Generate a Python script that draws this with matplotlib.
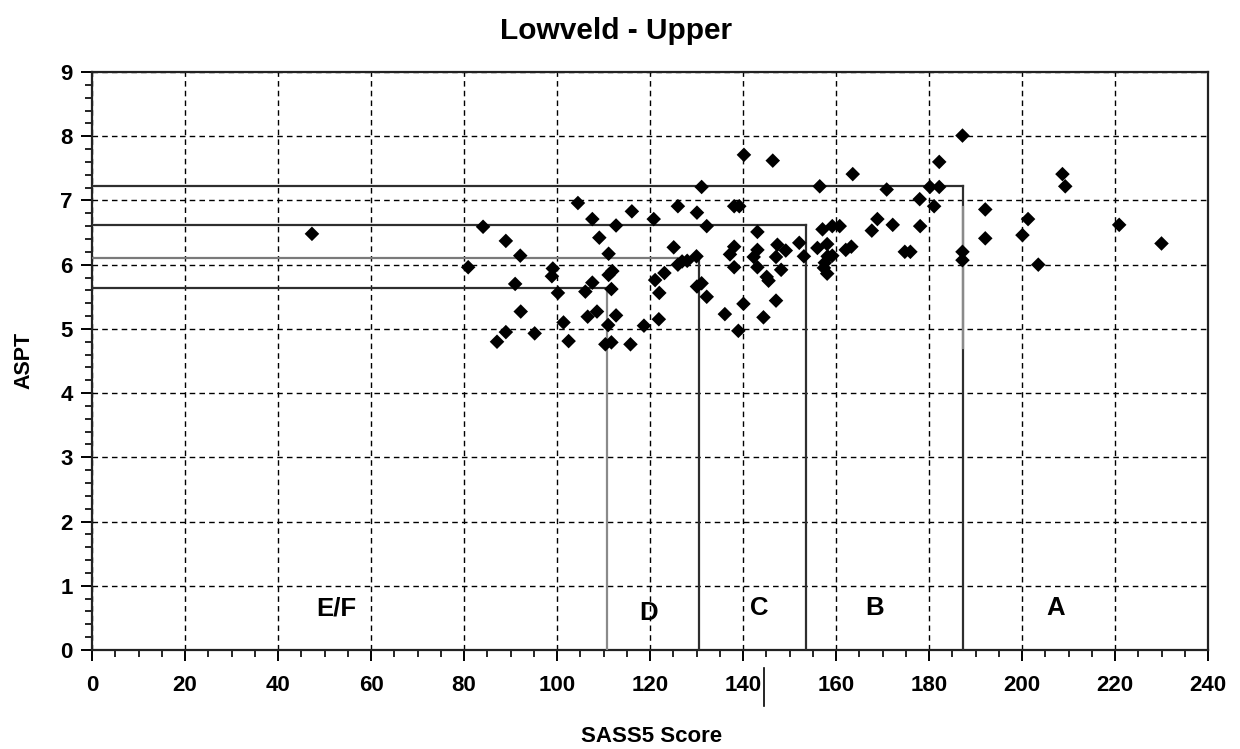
import numpy as np
import matplotlib
matplotlib.use("Agg")
import matplotlib.pyplot as plt
from matplotlib.lines import Line2D
from matplotlib.ticker import MultipleLocator

plt.rcParams['font.family'] = ['Liberation Sans', 'DejaVu Sans']
plt.rcParams['font.weight'] = 'bold'

# ---- data ----
sass5 = [47.3, 80.9, 84.1, 87.1, 89.0, 89.0, 91.0, 92.1, 92.2, 95.2,
         99.1, 98.9, 100.2, 101.4, 102.5, 104.5, 106.1, 106.6, 107.6, 107.6,
         108.6, 109.1, 110.4, 111.0, 111.1, 111.1, 111.9, 111.7, 111.7, 112.7,
         112.7, 115.8, 116.1, 118.7, 120.8, 121.1, 122.0, 121.9, 123.1, 125.1,
         126.0, 126.0, 126.9, 128.0, 130.0, 130.1, 130.1, 131.1, 131.1, 132.2,
         132.2, 136.1, 137.2, 138.1, 138.1, 138.1, 139.2, 139.0, 140.1, 140.2,
         142.3, 143.1, 143.1, 143.1, 144.4, 145.1, 145.5, 146.4, 147.1, 147.1,
         147.4, 148.2, 149.2, 152.1, 153.1, 156.0, 156.5, 157.1, 157.6, 157.4,
         158.1, 158.1, 158.2, 159.2, 159.2, 160.8, 162.1, 163.3, 163.6, 167.7,
         168.9, 170.9, 172.2, 174.8, 176.0, 178.0, 178.1, 180.2, 181.1, 182.2,
         182.2, 187.2, 187.2, 187.2, 192.1, 192.1, 200.1, 201.3, 203.5, 208.7,
         209.3, 220.9, 230.0]
aspt = [6.48, 5.96, 6.59, 4.80, 6.37, 4.95, 5.70, 6.14, 5.27, 4.93,
        5.94, 5.82, 5.56, 5.10, 4.81, 6.96, 5.58, 5.19, 6.71, 5.72,
        5.27, 6.42, 4.76, 5.06, 6.17, 5.84, 5.90, 5.62, 4.79, 6.61,
        5.21, 4.76, 6.83, 5.05, 6.71, 5.76, 5.56, 5.15, 5.87, 6.27,
        6.91, 6.00, 6.05, 6.06, 6.13, 6.81, 5.66, 5.71, 7.21, 6.60,
        5.50, 5.23, 6.16, 6.28, 5.96, 6.91, 6.91, 4.97, 5.39, 7.71,
        6.12, 6.23, 6.51, 5.96, 5.18, 5.81, 5.75, 7.62, 6.12, 5.44,
        6.31, 5.92, 6.22, 6.34, 6.13, 6.26, 7.22, 6.55, 6.03, 5.95,
        5.86, 6.32, 6.13, 6.14, 6.60, 6.60, 6.23, 6.28, 7.41, 6.53,
        6.71, 7.17, 6.62, 6.20, 6.20, 7.02, 6.60, 7.21, 6.91, 7.21,
        7.60, 8.01, 6.20, 6.07, 6.86, 6.41, 6.46, 6.71, 6.00, 7.41,
        7.22, 6.62, 6.33]

# band boundaries (SASS5 limit, ASPT limit) for A/B, B/C, C/D, D/E
bound_sass = [187.3, 153.6, 130.6, 110.8]
bound_aspt = [7.23, 6.62, 6.10, 5.63]
bound_col = ['#2e2e2e', '#2e2e2e', '#7a7a7a', '#2e2e2e']
vert_col = ['#2e2e2e', '#2e2e2e', '#2e2e2e', '#8a8a8a']

band_names = ['E/F', 'D', 'C', 'B', 'A']
band_x = [52.5, 119.6, 143.4, 168.2, 207.3]
band_y = [0.65, 0.58, 0.65, 0.65, 0.65]

fig = plt.figure(figsize=(12.4, 7.49), dpi=100)
ax = fig.add_axes([92/1240, 99/749, 1116/1240, 578/749])

ax.set_xlim(0, 240)
ax.set_ylim(0, 9)
ax.xaxis.set_major_locator(MultipleLocator(20))
ax.xaxis.set_minor_locator(MultipleLocator(5))
ax.yaxis.set_major_locator(MultipleLocator(1))
ax.yaxis.set_minor_locator(MultipleLocator(0.2))
ax.grid(True, which='major', color='black', linestyle=(0, (4, 3)), linewidth=1.0)
ax.set_axisbelow(True)

for s in ax.spines.values():
    s.set_linewidth(1.6)
    s.set_color('#222222')
ax.tick_params(which='major', direction='out', length=8, width=1.4, labelsize=16)
ax.tick_params(which='minor', direction='out', length=5, width=1.2)
ax.tick_params(axis='x', which='major', pad=10)
ax.tick_params(axis='y', which='major', pad=6)
for lab in ax.get_xticklabels() + ax.get_yticklabels():
    lab.set_fontweight('bold')

# band boundary lines
for xs, ys, hc, vc in zip(bound_sass, bound_aspt, bound_col, vert_col):
    ax.plot([0, xs], [ys, ys], color=hc, linewidth=1.6, zorder=3)
    ax.plot([xs, xs], [ys, 0], color=vc, linewidth=1.6, zorder=3)
# lighter middle stretch of the A/B vertical
ax.plot([bound_sass[0], bound_sass[0]], [6.9, 4.7], color='#8a8a8a', linewidth=1.6, zorder=3)

ax.scatter(sass5, aspt, marker='D', s=55, color='black', edgecolors='none', zorder=4)

for name, bx, by in zip(band_names, band_x, band_y):
    ax.text(bx, by, name, ha='center', va='center', fontsize=18.5, fontweight='bold')

fig.text(616/1240, 1 - 31/749, 'Lowveld - Upper', ha='center', va='center',
         fontsize=21.5, fontweight='bold')
fig.text(652/1240, 1 - 737/749, 'SASS5 Score', ha='center', va='center',
         fontsize=16, fontweight='bold')
fig.text(24/1240, 1 - 360/749, 'ASPT', ha='center', va='center', rotation=90,
         fontsize=15.5, fontweight='bold')

# small stray cursor mark under the axis
fig.add_artist(Line2D([764/1240, 764/1240], [1 - 668/749, 1 - 706/749],
                      color='black', linewidth=1.2))

fig.savefig('out.png', dpi=100)
